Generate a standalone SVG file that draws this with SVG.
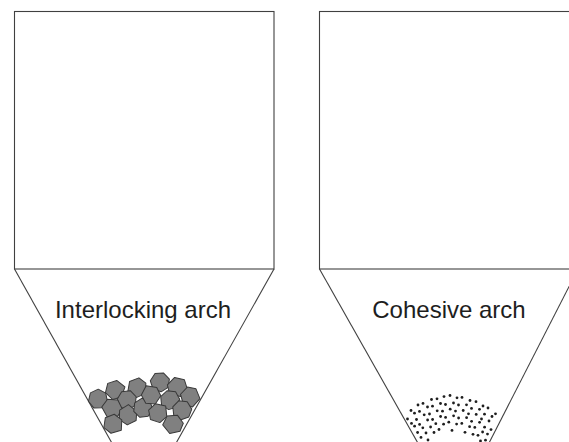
<svg xmlns="http://www.w3.org/2000/svg" xmlns:xlink="http://www.w3.org/1999/xlink" width="569" height="442" viewBox="0 0 569 442">
  <style>
    .wall { fill: none; stroke: #404040; stroke-width: 1.1; }
    .label { font-family: "Liberation Sans", Arial, sans-serif; font-size: 24px; fill: #1e1e1e; text-anchor: middle; }
    .grain { fill: #808080; stroke: #383838; stroke-width: 1; stroke-linejoin: round; }
    .fine { fill: #1e1e1e; }
  </style>
  <defs>
    <!-- coarse, angular particles -->
    <polygon id="pA" class="grain" points="9.8,0.5 5.8,7.8 -2.3,9.6 -8.9,4.2 -8.7,-4.4 -1.8,-9.7 6.3,-7.4"/>
    <polygon id="pB" class="grain" points="9.4,1.2 4.3,8.8 -5.6,8.2 -9.8,-0.4 -4.8,-8.4 5.6,-8.8"/>
    <polygon id="pC" class="grain" points="9.8,-2.4 6.6,7.6 -4.4,9.3 -9.8,1.2 -5.5,-8.2 4.5,-9.3"/>
    <!-- fine, cohesive powder particle -->
    <circle id="d" class="fine" r="1.4"/>
  </defs>

  <rect width="569" height="442" fill="#ffffff"/>

  <!-- hopper with interlocking arch -->
  <g id="hopper-interlocking">
    <rect class="wall" x="14.5" y="11.5" width="259.5" height="257.5"/>
    <polyline class="wall" points="113,445 14.5,269"/>
    <polyline class="wall" points="274,269 175,445"/>
    <text class="label" x="143" y="318">Interlocking arch</text>
    <g id="interlocking-arch">
      <use xlink:href="#pA" transform="translate(98,399) rotate(12)"/>
      <use xlink:href="#pB" transform="translate(115,390) rotate(40)"/>
      <use xlink:href="#pC" transform="translate(137,388) rotate(-15)"/>
      <use xlink:href="#pA" transform="translate(127,400) rotate(30)"/>
      <use xlink:href="#pC" transform="translate(112,408) rotate(70)"/>
      <use xlink:href="#pB" transform="translate(128,415) rotate(-30)"/>
      <use xlink:href="#pA" transform="translate(143,408) rotate(5)"/>
      <use xlink:href="#pB" transform="translate(113,424) rotate(95)"/>
      <use xlink:href="#pA" transform="translate(160,382) rotate(-20)"/>
      <use xlink:href="#pC" transform="translate(177,387) rotate(20)"/>
      <use xlink:href="#pB" transform="translate(151,395) rotate(-60)"/>
      <use xlink:href="#pA" transform="translate(170,400) rotate(45)"/>
      <use xlink:href="#pC" transform="translate(190,397) rotate(-40)"/>
      <use xlink:href="#pB" transform="translate(158,413) rotate(15)"/>
      <use xlink:href="#pA" transform="translate(182,410) rotate(-8)"/>
      <use xlink:href="#pC" transform="translate(173,424) rotate(60)"/>
    </g>
  </g>

  <!-- hopper with cohesive arch -->
  <g id="hopper-cohesive">
    <rect class="wall" x="319.5" y="11.5" width="259" height="257.5"/>
    <polyline class="wall" points="319.5,269 419,445"/>
    <polyline class="wall" points="578,269 488,445"/>
    <text class="label" x="449" y="318">Cohesive arch</text>
    <g id="cohesive-arch">
      <use xlink:href="#d" x="411" y="410.5"/>
      <use xlink:href="#d" x="418" y="405"/>
      <use xlink:href="#d" x="423" y="403.4"/>
      <use xlink:href="#d" x="431.5" y="399.5"/>
      <use xlink:href="#d" x="437" y="398.8"/>
      <use xlink:href="#d" x="444" y="396.6"/>
      <use xlink:href="#d" x="450" y="395.5"/>
      <use xlink:href="#d" x="457" y="397.8"/>
      <use xlink:href="#d" x="462" y="397.4"/>
      <use xlink:href="#d" x="470" y="400.5"/>
      <use xlink:href="#d" x="476" y="401.7"/>
      <use xlink:href="#d" x="483" y="406"/>
      <use xlink:href="#d" x="488" y="408"/>
      <use xlink:href="#d" x="495.5" y="413.8"/>

      <use xlink:href="#d" x="407.5" y="419"/>
      <use xlink:href="#d" x="414.5" y="413.2"/>
      <use xlink:href="#d" x="419.5" y="411.4"/>
      <use xlink:href="#d" x="427.5" y="407"/>
      <use xlink:href="#d" x="432.5" y="406.2"/>
      <use xlink:href="#d" x="440.5" y="403.5"/>
      <use xlink:href="#d" x="445.5" y="404.5"/>
      <use xlink:href="#d" x="453.5" y="403"/>
      <use xlink:href="#d" x="458.5" y="405"/>
      <use xlink:href="#d" x="466.5" y="404.8"/>
      <use xlink:href="#d" x="471.5" y="408.4"/>
      <use xlink:href="#d" x="479.5" y="409.3"/>
      <use xlink:href="#d" x="484.5" y="414.2"/>
      <use xlink:href="#d" x="492" y="416.5"/>

      <use xlink:href="#d" x="411.5" y="423.4"/>
      <use xlink:href="#d" x="416.5" y="419.5"/>
      <use xlink:href="#d" x="424.2" y="414.8"/>
      <use xlink:href="#d" x="429.5" y="414"/>
      <use xlink:href="#d" x="437.2" y="410.8"/>
      <use xlink:href="#d" x="442.5" y="411.2"/>
      <use xlink:href="#d" x="450.2" y="409.2"/>
      <use xlink:href="#d" x="455.5" y="411.1"/>
      <use xlink:href="#d" x="463.2" y="410.5"/>
      <use xlink:href="#d" x="468.5" y="413.8"/>
      <use xlink:href="#d" x="476.2" y="414.4"/>
      <use xlink:href="#d" x="481.5" y="419"/>
      <use xlink:href="#d" x="489" y="421"/>

      <use xlink:href="#d" x="414.6" y="426.2"/>
      <use xlink:href="#d" x="419.6" y="424.4"/>
      <use xlink:href="#d" x="427.6" y="420"/>
      <use xlink:href="#d" x="432.6" y="419.5"/>
      <use xlink:href="#d" x="440.6" y="416.5"/>
      <use xlink:href="#d" x="445.6" y="417.4"/>
      <use xlink:href="#d" x="453.6" y="415.8"/>
      <use xlink:href="#d" x="458.6" y="418"/>
      <use xlink:href="#d" x="466.6" y="417.7"/>
      <use xlink:href="#d" x="471.6" y="421.3"/>
      <use xlink:href="#d" x="479.6" y="422.3"/>
      <use xlink:href="#d" x="484.6" y="427.2"/>
      <use xlink:href="#d" x="491" y="429.6"/>

      <use xlink:href="#d" x="417.6" y="432.5"/>
      <use xlink:href="#d" x="422.8" y="427.8"/>
      <use xlink:href="#d" x="430.6" y="427"/>
      <use xlink:href="#d" x="435.8" y="423.7"/>
      <use xlink:href="#d" x="443.6" y="424.2"/>
      <use xlink:href="#d" x="448.8" y="422.2"/>
      <use xlink:href="#d" x="456.6" y="424.1"/>
      <use xlink:href="#d" x="461.8" y="423.4"/>
      <use xlink:href="#d" x="469.6" y="426.7"/>
      <use xlink:href="#d" x="474.8" y="427.4"/>
      <use xlink:href="#d" x="482.6" y="432"/>
      <use xlink:href="#d" x="487.5" y="434.1"/>

      <use xlink:href="#d" x="421" y="437.4"/>
      <use xlink:href="#d" x="426" y="433"/>
      <use xlink:href="#d" x="434" y="432.5"/>
      <use xlink:href="#d" x="439" y="429.5"/>
      <use xlink:href="#d" x="452" y="430.4"/>
      <use xlink:href="#d" x="465" y="432.3"/>
      <use xlink:href="#d" x="473" y="434.3"/>
      <use xlink:href="#d" x="478" y="435.3"/>
      <use xlink:href="#d" x="485.5" y="440.2"/>
      <use xlink:href="#d" x="428" y="440"/>
      <use xlink:href="#d" x="480.5" y="441"/>
    </g>
  </g>
</svg>
